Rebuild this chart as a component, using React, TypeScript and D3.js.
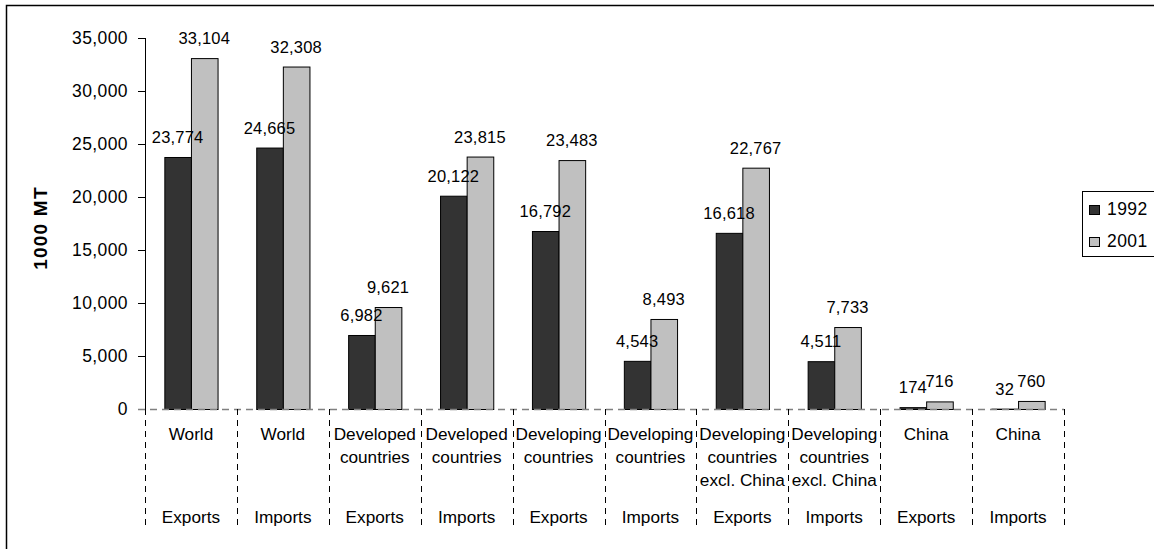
import React from "react";
import * as d3 from "d3";

const regions = [
  ["World"],
  ["World"],
  ["Developed", "countries"],
  ["Developed", "countries"],
  ["Developing", "countries"],
  ["Developing", "countries"],
  ["Developing", "countries", "excl. China"],
  ["Developing", "countries", "excl. China"],
  ["China"],
  ["China"],
];
const flows = ["Exports", "Imports", "Exports", "Imports", "Exports", "Imports", "Exports", "Imports", "Exports", "Imports"];
const series = ["1992", "2001"];
const values1992 = [23774, 24665, 6982, 20122, 16792, 4543, 16618, 4511, 174, 32];
const values2001 = [33104, 32308, 9621, 23815, 23483, 8493, 22767, 7733, 716, 760];
const yTicks = [0, 5000, 10000, 15000, 20000, 25000, 30000, 35000];
const colors = ["#333333", "#c0c0c0"];

const FONT = "'Liberation Sans', Arial, sans-serif";

export default function App() {
  const W = 1154, H = 549;
  const left = 145, right = 1064, top = 38, bottom = 409;
  const idx = d3.range(regions.length).map(String);
  const x = d3.scaleBand<string>().domain(idx).range([left, right]).paddingInner(0).paddingOuter(0);
  const xs = d3.scaleBand<string>().domain(series).range([0, x.bandwidth()]).paddingInner(0).paddingOuter(0.727);
  const y = d3.scaleLinear().domain([0, 35000]).range([bottom, top]);
  const fmt = d3.format(",");
  const data = [values1992, values2001];
  const dividers = d3.range(regions.length + 1).map((i) => left + i * x.step());
  const bars = idx.flatMap((c, i) =>
    series.map((s, si) => ({ key: `${c}-${s}`, si, v: data[si][i], bx: (x(c) as number) + (xs(s) as number) }))
  );

  return (
    <svg width={W} height={H} style={{ position: "absolute", left: 0, top: 0, background: "#fff" }} fontFamily={FONT}>
      <rect x={6.5} y={5.5} width={1200} height={600} fill="none" stroke="#000" strokeWidth={1.5} />
      {/* y axis */}
      <line x1={left + 0.5} x2={left + 0.5} y1={top} y2={bottom} stroke="#000" />
      {yTicks.map((t) => (
        <g key={t}>
          {t > 0 && <line x1={left - 7} x2={left} y1={Math.round(y(t)) + 0.5} y2={Math.round(y(t)) + 0.5} stroke="#000" />}
          <text x={128} y={y(t)} dy="0.36em" textAnchor="end" fontSize={17.5} letterSpacing={0.4} fill="#000">
            {fmt(t)}
          </text>
        </g>
      ))}
      <text transform={`translate(47,228) rotate(-90)`} textAnchor="middle" fontSize={19} fontWeight="bold" letterSpacing={1.2}>
        1000 MT
      </text>
      {/* bars */}
      {bars.map((b) => (
        <rect key={b.key} x={b.bx + 0.5} y={y(b.v) + 0.5} width={xs.bandwidth()} height={Math.max(0, y(0) - y(b.v))} fill={colors[b.si]} stroke="#000" strokeWidth={1} />
      ))}
      {bars.map((b) => (
        <text key={b.key} x={b.bx + xs.bandwidth() / 2} y={y(b.v) - 14} textAnchor="middle" fontSize={16.5} letterSpacing={0.2} fill="#000">
          {fmt(b.v)}
        </text>
      ))}
      {/* x axis dashed */}
      <line x1={left - 7} x2={right} y1={bottom + 0.5} y2={bottom + 0.5} stroke="#808080" strokeWidth={1.3} strokeDasharray="7,5" />
      {dividers.map((d, i) => (
        <line key={i} x1={Math.round(d) + 0.5} x2={Math.round(d) + 0.5} y1={bottom} y2={525} stroke="#000" strokeDasharray="6,5" />
      ))}
      {idx.map((c, i) => (
        <g key={c} fontSize={17.2} textAnchor="middle">
          {regions[i].map((line, li) => (
            <text key={li} x={(x(c) as number) + x.bandwidth() / 2} y={440 + li * 23}>
              {line}
            </text>
          ))}
          <text x={(x(c) as number) + x.bandwidth() / 2} y={523}>
            {flows[i]}
          </text>
        </g>
      ))}
      {/* legend */}
      <rect x={1082.5} y={191.5} width={100} height={65} fill="#fff" stroke="#000" />
      {series.map((s, si) => (
        <g key={s}>
          <rect x={1089.5} y={205.5 + si * 32} width={10} height={9} fill={colors[si]} stroke="#000" />
          <text x={1107} y={215 + si * 32} fontSize={17.5} letterSpacing={0.4}>
            {s}
          </text>
        </g>
      ))}
    </svg>
  );
}
